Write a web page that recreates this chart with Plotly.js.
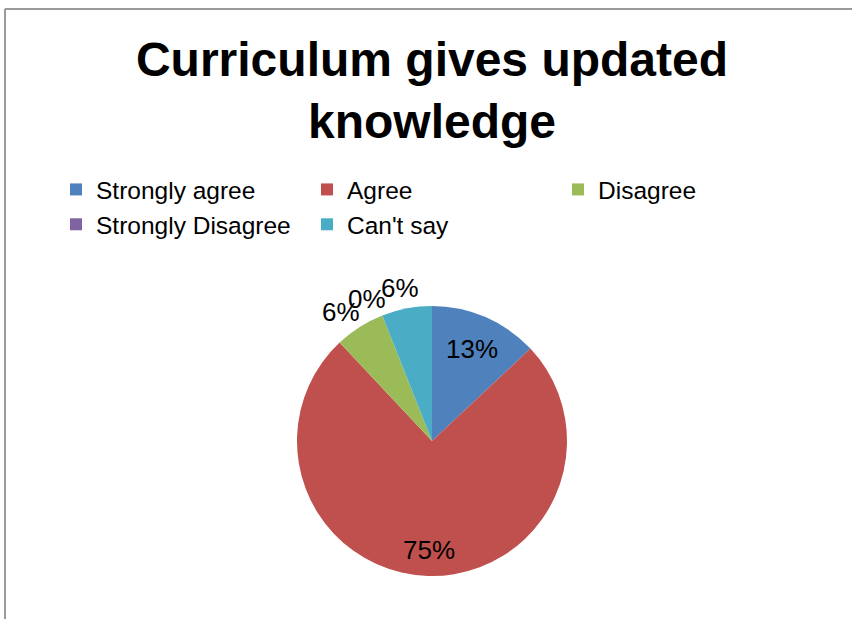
<!DOCTYPE html>
<html>
<head>
<meta charset="utf-8">
<script src="https://cdn.plot.ly/plotly-3.0.1.min.js"></script>
<style>html,body{margin:0;padding:0;background:#fff;}#chart{width:852px;height:619px;}</style>
</head>
<body>
<div id="chart"></div>
<script>
const categories = ["Strongly agree", "Agree", "Disagree", "Strongly Disagree", "Can't say"];
const percentValues = [13, 75, 6, 0, 6];
const sliceColors = ["#4F81BD", "#C0504D", "#9BBB59", "#8064A2", "#4BACC6"];

const W = 852, H = 619;
const FONT = "'Liberation Sans', Arial, Helvetica, sans-serif";
// pie placement (pixels)
const PIE = {left: 297, right: 567, top: 306, bottom: 576};
// label distance from centre as a fraction of the radius, and small angular nudges in degrees (style)
const labelRadius = [0.74, 0.81, 1.17, 1.16, 1.16];
const labelNudgeDeg = [0, 0, -3, -3, -1];

const trace = {
  type: 'pie',
  labels: categories,
  values: percentValues,
  sort: false,
  direction: 'clockwise',
  rotation: 0,
  marker: {colors: sliceColors, line: {width: 0}},
  textinfo: 'none',
  hoverinfo: 'label+percent',
  automargin: false,
  domain: {x: [PIE.left / W, PIE.right / W], y: [1 - PIE.bottom / H, 1 - PIE.top / H]}
};

// percentage labels placed along each slice's mid-angle
const total = percentValues.reduce((a, b) => a + b, 0);
const cx = (PIE.left + PIE.right) / 2, cy = (PIE.top + PIE.bottom) / 2;
const R = Math.min(PIE.right - PIE.left, PIE.bottom - PIE.top) / 2;
const annotations = [];
let cum = 0;
percentValues.forEach((v, i) => {
  const mid = (cum + v / 2) / total;
  cum += v;
  const ang = 2 * Math.PI * mid + labelNudgeDeg[i] * Math.PI / 180;
  const r = R * labelRadius[i];
  const px = cx + r * Math.sin(ang), py = cy - r * Math.cos(ang);
  annotations.push({
    xref: 'paper', yref: 'paper', x: px / W, y: 1 - py / H,
    xanchor: 'center', yanchor: 'middle', showarrow: false,
    text: Math.round(100 * v / total) + '%',
    font: {family: FONT, size: 26, color: '#000'}
  });
});

const layout = {
  width: W, height: H,
  margin: {l: 0, r: 0, t: 0, b: 0},
  paper_bgcolor: '#fff',
  font: {family: FONT, color: '#000'},
  title: {
    text: '<b>Curriculum gives updated<br>knowledge</b>',
    font: {family: FONT, size: 48, color: '#000'},
    x: 432 / W, xanchor: 'center',
    y: 1 - 76 / H, yanchor: 'middle', xref: 'paper', yref: 'paper'
  },
  showlegend: true,
  legend: {
    orientation: 'h',
    x: 56 / W, xanchor: 'left',
    y: 1 - 167 / H, yanchor: 'top',
    font: {family: FONT, size: 24.5, color: '#000'},
    entrywidth: 206, entrywidthmode: 'pixels',
    traceorder: 'normal',
    bgcolor: 'rgba(0,0,0,0)'
  },
  annotations: annotations,
  shapes: [
    {type: 'line', xref: 'paper', yref: 'paper', x0: 5 / W, x1: 1, y0: 1 - 9 / H, y1: 1 - 9 / H, line: {color: '#9a9a9a', width: 2}},
    {type: 'line', xref: 'paper', yref: 'paper', x0: 5 / W, x1: 5 / W, y0: 0, y1: 1 - 9 / H, line: {color: '#9a9a9a', width: 2}}
  ]
};

Plotly.newPlot('chart', [trace], layout, {displayModeBar: false, staticPlot: true});
</script>
</body>
</html>
